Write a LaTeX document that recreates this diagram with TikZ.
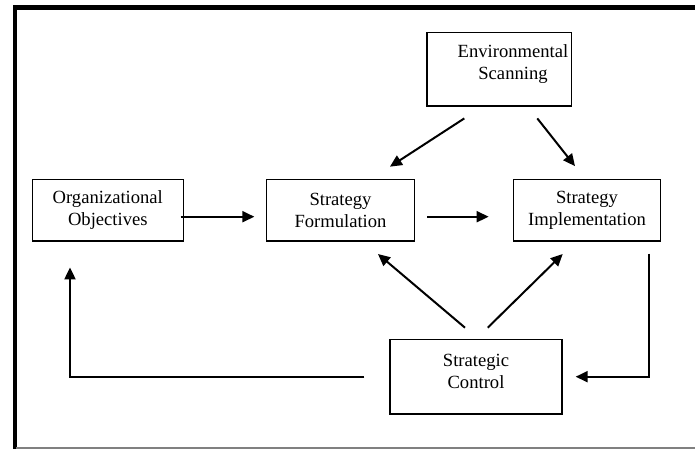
\documentclass[tikz,border=0pt]{standalone}
\usepackage{fontspec}
\setmainfont{Liberation Serif}
\usetikzlibrary{arrows.meta}
\begin{document}
\begin{tikzpicture}[x=0.5pt,y=-0.5pt,
  box/.style={draw, line width=0.65pt, inner sep=0pt, align=center,
    font=\fontsize{9.3}{11.1}\selectfont},
  lbl/.style={align=center, inner sep=0pt, font=\fontsize{9.3}{11.1}\selectfont},
  flow/.style={line width=1pt, -{Triangle[length=6pt,width=5.5pt]}},
]
\useasboundingbox (0,0) rectangle (695,449);

% page frame
\draw[line width=2.2pt] (14.7,449) -- (14.7,7.5) -- (695,7.5);
\draw[gray, line width=0.6pt] (16,448) -- (695,448);

% process boxes
\node[box, minimum width=75.5pt, minimum height=30.85pt] (org)  at (107.8,210.2) {Organizational\\Objectives};
\node[box, minimum width=73.8pt, minimum height=30.85pt] (form) at (340.5,210.2) {Strategy\\Formulation};
\node[box, minimum width=73.7pt, minimum height=30.85pt] (impl) at (587,210.2) {Strategy\\Implementation};
\node[box, minimum width=72.35pt, minimum height=36.85pt] (env)  at (499.4,69.2) {};
\node[lbl, xshift=6.8pt, yshift=2.6pt] (envtext) at (env.center) {Environmental\\Scanning};
\node[box, minimum width=86pt, minimum height=37.35pt] (ctrl) at (476,376.7) {};
\node[lbl, yshift=2.8pt] (ctrltext) at (ctrl.center) {Strategic\\Control};

% main flow
\draw[flow] ([shift={(-3.3,6.5)}]org.east) -- ([shift={(-11.7,6.5)}]form.west);
\draw[flow] ([shift={(12.4,6.5)}]form.east) -- ([shift={(-24,6.5)}]impl.west);

% scanning feeds formulation and implementation
\draw[flow] ([shift={(-35.1,11.7)}]env.south) -- ([shift={(-25,-12)}]form.north east);
\draw[flow] ([shift={(37.9,11.7)}]env.south) -- ([shift={(-12,-12.6)}]impl.north);

% control feeds back
\draw[flow] ([shift={(-11,-11)}]ctrl.north) -- ([shift={(-37,12.3)}]form.south east);
\draw[flow] ([shift={(11.7,-11)}]ctrl.north) -- ([shift={(-24.3,12.3)}]impl.south);
\draw[flow] ([shift={(-12.4,12)}]impl.south east) |- ([xshift=6.5pt]ctrl.east);
\draw[flow] ([xshift=-12.5pt]ctrl.west) -| ([shift={(-37.8,25.7)}]org.south);
\end{tikzpicture}
\end{document}
